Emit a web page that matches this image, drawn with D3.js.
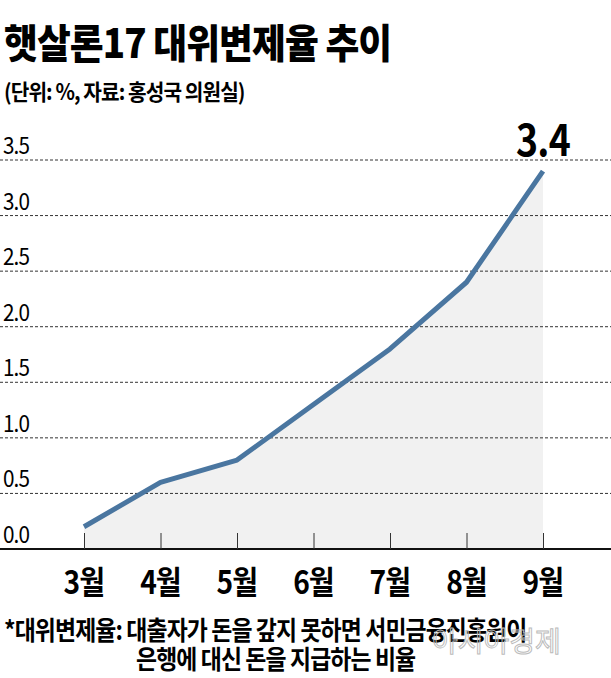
<!DOCTYPE html>
<html><head><meta charset="utf-8">
<script src="https://cdn.jsdelivr.net/npm/d3@7"></script>
<style>body{margin:0;background:#fff}text{font-family:"Noto Sans CJK KR","Noto Sans",sans-serif}</style>
</head><body><svg id="c" width="611" height="678"></svg>
<script>
const months=["3월","4월","5월","6월","7월","8월","9월"];
const values=[0.2,0.6,0.8,1.3,1.8,2.4,3.4];
const yTicks=[0,0.5,1,1.5,2,2.5,3,3.5];
const svg=d3.select("#c");
const x=d3.scalePoint().domain(months).range([84,543]);
const y=d3.scaleLinear().domain([0,3.5]).range([549,160]);
function txt(xp,yp,size,sx,t,w,anchor){
 return svg.append("text").attr("x",xp/sx).attr("y",yp).attr("font-size",size).attr("font-weight",w||700)
  .attr("letter-spacing",-1).attr("text-anchor",anchor||"start").attr("transform",`scale(${sx},1)`).text(t);
}
txt(4,58,40,0.92,"햇살론17 대위변제율 추이",900);
txt(4,100,22,0.92,"(단위: %, 자료: 홍성국 의원실)",700);
svg.append("path").datum(values).attr("fill","#f1f1f1")
 .attr("d",d3.area().x((d,i)=>x(months[i])).y0(y(0)).y1(d=>y(d)));
yTicks.slice(1).forEach(t=>{
 svg.append("line").attr("x1",0).attr("x2",611).attr("y1",y(t)).attr("y2",y(t)).attr("stroke","#333").attr("stroke-dasharray","3,2").attr("stroke-width",1);
});
yTicks.forEach(t=>txt(3,y(t)-6,23,0.9,d3.format(".1f")(t),400));
svg.append("line").attr("x1",0).attr("x2",611).attr("y1",y(0)).attr("y2",y(0)).attr("stroke","#111").attr("stroke-width",2);
const xa=svg.append("g").attr("transform",`translate(0,${y(0)})`).call(d3.axisTop(x).tickSize(16).tickFormat(""));
xa.select(".domain").remove();xa.selectAll("line").attr("stroke","#333");
months.forEach(m=>txt(x(m),594,32,0.88,m,700,"middle"));
svg.append("path").datum(values).attr("fill","none").attr("stroke","#4a76a0").attr("stroke-width",5).attr("stroke-linejoin","round")
 .attr("d",d3.line().x((d,i)=>x(months[i])).y(d=>y(d)));
txt(x("9월"),156,44,0.85,d3.format(".1f")(values[6]),700,"middle");
txt(4,640,26,0.88,"*대위변제율: 대출자가 돈을 갚지 못하면 서민금융진흥원이",700);
txt(136,669,26,0.88,"은행에 대신 돈을 지급하는 비율",700);
svg.append("text").attr("x",432).attr("y",652).attr("font-size",28).attr("fill","none").attr("stroke","#bbb").attr("stroke-width",1).text("아시아경제");
</script></body></html>
